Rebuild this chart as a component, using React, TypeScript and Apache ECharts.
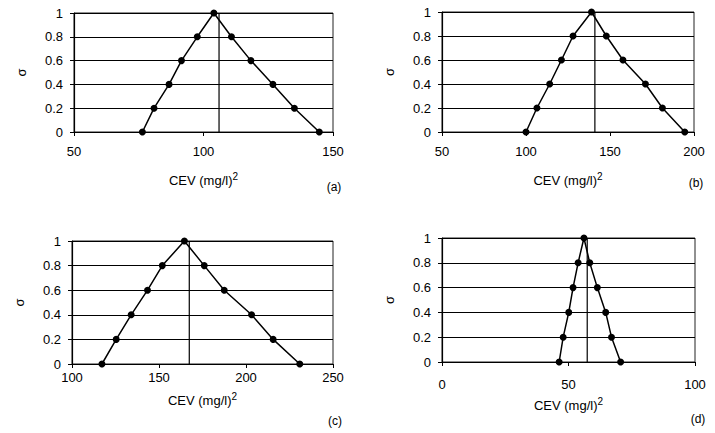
import React, { useEffect, useRef } from "react";
import * as echarts from "echarts";

const levels = [0, 0.2, 0.4, 0.6, 0.8, 1, 0.8, 0.6, 0.4, 0.2, 0];
const cevA = [76.4, 80.9, 86.7, 91.5, 97.6, 104, 110.8, 118.3, 126.8, 135.1, 144.7];
const cevB = [100, 106.5, 114.1, 121.1, 128, 139, 147.8, 157.7, 171.1, 181.2, 194.5];
const cevC = [117.2, 125.4, 134, 143.4, 151.9, 164.6, 176, 187.5, 203.2, 215.6, 230.9];
const cevD = [46.3, 47.9, 50.1, 51.8, 53.8, 56.1, 58.4, 61.4, 64.7, 67, 70.6];
const verticals = [106, 141, 167.4, 57.4];
const xRanges = [
  [50, 150],
  [50, 200],
  [100, 250],
  [0, 100],
];
const panelLabels = ["(a)", "(b)", "(c)", "(d)"];
const yTicks = [0, 0.2, 0.4, 0.6, 0.8, 1];

const FONT = "Liberation Sans, Arial, sans-serif";

export default function App() {
  const ref = useRef<HTMLDivElement>(null);
  useEffect(() => {
    if (!ref.current) return;
    const chart = echarts.init(ref.current, null, { renderer: "svg" });
    const panels = [cevA, cevB, cevC, cevD];
    const grids = [
      { left: 74, top: 13, width: 259, height: 119 },
      { left: 442, top: 12, width: 252, height: 120 },
      { left: 72, top: 241, width: 261, height: 123 },
      { left: 442, top: 238, width: 253, height: 124 },
    ];
    const labelMargins = [13, 13, 7, 16];
    const nameGaps = [39, 39, 27, 34];
    const labelPos = [
      [334, 187],
      [696, 183],
      [335, 421],
      [698, 419],
    ];
    const series: any[] = [];
    panels.forEach((xs, i) => {
      series.push({
        type: "line",
        xAxisIndex: i,
        yAxisIndex: i,
        data: xs.map((x, k) => [x, levels[k]]),
        symbol: "circle",
        symbolSize: 7,
        itemStyle: { color: "#000" },
        lineStyle: { color: "#000", width: 1.5 },
      });
      series.push({
        type: "line",
        xAxisIndex: i,
        yAxisIndex: i,
        data: [
          [verticals[i], yTicks[0]],
          [verticals[i], yTicks[yTicks.length - 1]],
        ],
        symbol: "none",
        lineStyle: { color: "#000", width: 1.2 },
      });
    });
    chart.setOption({
      animation: false,
      textStyle: { fontFamily: FONT, color: "#000" },
      grid: grids.map((g) => ({
        ...g,
        show: true,
        borderColor: "#222",
        borderWidth: 1,
        containLabel: false,
      })),
      xAxis: grids.map((_, i) => ({
        type: "value",
        gridIndex: i,
        min: xRanges[i][0],
        max: xRanges[i][1],
        interval: 50,
        axisLine: { show: true, onZero: false, lineStyle: { color: "#000", width: 1.2 } },
        axisTick: { show: true, length: 4, lineStyle: { color: "#000" } },
        splitLine: { show: false },
        axisLabel: { color: "#000", fontSize: 13, margin: labelMargins[i], fontFamily: FONT },
        name: "{a|CEV (mg/l)}{s|2}",
        nameLocation: "middle",
        nameGap: nameGaps[i],
        nameTextStyle: {
          rich: {
            a: { fontSize: 13, color: "#000", fontFamily: FONT, verticalAlign: "bottom", lineHeight: 16 },
            s: { fontSize: 10, color: "#000", fontFamily: FONT, verticalAlign: "top", lineHeight: 16, padding: [0, 0, 6, 0] },
          },
        },
      })),
      yAxis: grids.map((_, i) => ({
        type: "value",
        gridIndex: i,
        min: 0,
        max: 1,
        interval: 0.2,
        axisLine: { show: true, lineStyle: { color: "#000", width: 1.2 } },
        axisTick: { show: true, length: 4, lineStyle: { color: "#000" } },
        splitLine: { show: true, lineStyle: { color: "#000", width: 1 } },
        axisLabel: { color: "#000", fontSize: 13, margin: 11, fontFamily: FONT },
        name: "σ",
        nameLocation: "middle",
        nameGap: 46,
        nameRotate: 90,
        nameTextStyle: { color: "#000", fontSize: 13, fontFamily: FONT },
      })),
      graphic: panelLabels.map((t, i) => ({
        type: "text",
        x: labelPos[i][0],
        y: labelPos[i][1],
        style: {
          text: t,
          fill: "#000",
          font: `12px ${FONT}`,
          textAlign: "center",
          textVerticalAlign: "middle",
        },
      })),
      series,
    });
    return () => chart.dispose();
  }, []);
  return (
    <div
      ref={ref}
      style={{ position: "fixed", left: 0, top: 0, width: 715, height: 433, background: "#fff" }}
    />
  );
}
